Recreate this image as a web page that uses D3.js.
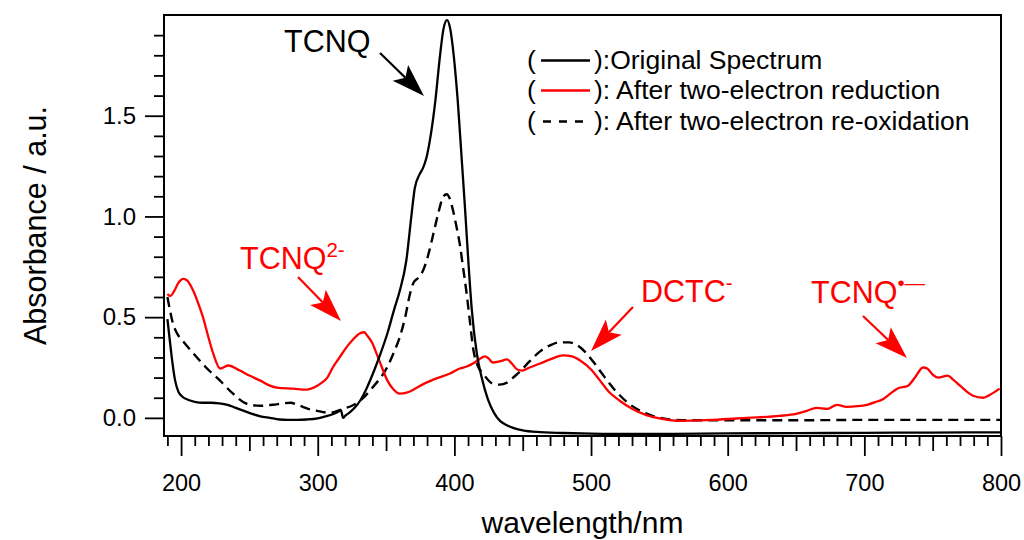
<!DOCTYPE html>
<html><head><meta charset="utf-8">
<script src="https://cdn.jsdelivr.net/npm/d3@7"></script>
<style>html,body{margin:0;padding:0;background:#fff;} svg{display:block;} text{font-family:"Liberation Sans",Arial,sans-serif;}</style>
</head><body><svg id="c" width="1024" height="540"></svg>
<script>
// ---- data ----
const wlOriginal = [190,191.5,193,195.5,198,201,205,210,216,222,228,234,240,246,252,258,265,272,278,285,292,300,306,311,315,317,318.5,320,323,327,331,336,341,346,351,356,360,364.8,368.5,371,374.6,377,379.5,382,386,389.5,392,394.6,397,399.5,402.5,405.5,407.5,410,412.7,416.4,420,424.6,429,433.4,438,443,450,460,480,500,530,560,600,650,700,750,800];
const absOriginal = [0.49,0.40,0.31,0.19,0.13,0.105,0.09,0.08,0.075,0.075,0.072,0.065,0.05,0.035,0.02,0.008,0.0,-0.008,-0.01,-0.01,-0.008,-0.002,0.008,0.018,0.03,0.038,0.0,0.01,0.025,0.05,0.085,0.15,0.23,0.32,0.42,0.54,0.63,0.78,1.0,1.14,1.21,1.24,1.29,1.375,1.57,1.80,1.93,1.975,1.93,1.80,1.57,1.27,1.07,0.8,0.54,0.32,0.2,0.09,0.025,-0.015,-0.035,-0.05,-0.062,-0.07,-0.075,-0.078,-0.08,-0.079,-0.077,-0.076,-0.074,-0.073,-0.072];

const wlReduced = [190,192,195,198,201.5,204,209,213,216,220,223.5,228.5,231,234.5,243,250,258,265,270,282,292,297,302,307,311,316,321,326,331,334,336,340,343,347,351,355,360,365,370,375,384.5,396.8,404,409,413.6,418,422.4,425,428,433,438.5,442,446,449.5,455,462.7,470,479.5,486,492,500,506.6,513,521,530,541,552,565,589,614,638,650,658,665,673,680,687,695,702,708,713.6,719,724,732,737,743,746,750,754,761,765,770,775,779.5,787,792,799];
const absReduced = [0.615,0.605,0.63,0.67,0.69,0.685,0.63,0.56,0.5,0.4,0.32,0.245,0.25,0.26,0.235,0.21,0.185,0.16,0.15,0.145,0.14,0.15,0.17,0.2,0.25,0.3,0.35,0.39,0.42,0.425,0.41,0.37,0.32,0.25,0.185,0.145,0.12,0.125,0.14,0.16,0.19,0.22,0.245,0.255,0.27,0.29,0.305,0.295,0.275,0.28,0.29,0.27,0.24,0.235,0.25,0.27,0.29,0.31,0.305,0.285,0.24,0.185,0.13,0.085,0.045,0.012,-0.005,-0.015,-0.01,0.0,0.01,0.02,0.035,0.05,0.045,0.065,0.055,0.058,0.065,0.078,0.093,0.12,0.145,0.16,0.2,0.25,0.245,0.215,0.2,0.21,0.19,0.16,0.13,0.11,0.1,0.115,0.145];

const wlReoxidized = [190,192,194,197,201.5,209,219,228.5,238,248,258,267,275,280,287,293,299.5,309,318.5,325,331,340,350.7,356,360,364,367.5,370,373.5,377,380.5,384.5,388,392,394.4,396.5,399,401.5,404,406.5,409,411.5,413.6,417,421,428,433,438.5,443,448,455,462.7,470,477,484,490,496,501.5,508,516,526,536,545,555,570,600,650,700,750,800];
const absReoxidized = [0.6,0.53,0.47,0.42,0.38,0.32,0.245,0.185,0.12,0.07,0.06,0.065,0.072,0.075,0.06,0.045,0.035,0.025,0.045,0.06,0.085,0.15,0.25,0.33,0.4,0.5,0.615,0.67,0.695,0.73,0.8,0.91,1.01,1.1,1.11,1.09,1.03,0.95,0.86,0.74,0.615,0.47,0.35,0.26,0.22,0.17,0.165,0.175,0.2,0.23,0.28,0.33,0.36,0.375,0.375,0.36,0.325,0.28,0.22,0.15,0.08,0.035,0.01,-0.005,-0.012,-0.012,-0.012,-0.01,-0.01,-0.01];

const xTicks = [200,300,400,500,600,700,800];
const yTicks = [0.0,0.5,1.0,1.5];
const legendLabels = ["):Original Spectrum","): After two-electron reduction","): After two-electron re-oxidation"];
const xTitle = "wavelength/nm";
const yTitle = "Absorbance / a.u.";

// ---- layout ----
const L=164, R=1001, T=15, B=436;
const RED="#ff0000";
const svg=d3.select("#c");
const x=d3.scaleLinear().domain([187.5,800]).range([L,R]);
const y=d3.scaleLinear().domain([-0.09,2.0]).range([B,T]);

// axes
function styleAxis(g){ g.select(".domain").remove(); g.selectAll("line").attr("stroke","#000").attr("stroke-width",1.8); }
const minorX=d3.range(190,801,10).filter(v=>v%50!==0);
const medX=d3.range(250,801,100);
svg.append("g").attr("transform",`translate(0,${B})`).call(d3.axisBottom(x).tickValues(minorX).tickSize(10).tickFormat("")).call(styleAxis);
svg.append("g").attr("transform",`translate(0,${B})`).call(d3.axisBottom(x).tickValues(medX).tickSize(15).tickFormat("")).call(styleAxis);
const gx=svg.append("g").attr("transform",`translate(0,${B})`).call(d3.axisBottom(x).tickValues(xTicks).tickSize(20).tickPadding(18).tickFormat(d3.format("d"))).call(styleAxis);
gx.selectAll("text").attr("font-size",23.5).attr("fill","#000").attr("font-family","Liberation Sans, Arial, sans-serif");

const minorY=d3.range(0,20).map(i=>i/10).filter(v=>Math.abs(v*2-Math.round(v*2))>1e-6);
svg.append("g").attr("transform",`translate(${L},0)`).call(d3.axisLeft(y).tickValues(minorY).tickSize(10).tickFormat("")).call(styleAxis);
const gy=svg.append("g").attr("transform",`translate(${L},0)`).call(d3.axisLeft(y).tickValues(yTicks).tickSize(19).tickPadding(9).tickFormat(d3.format(".1f"))).call(styleAxis);
gy.selectAll("text").attr("font-size",24).attr("fill","#000").attr("font-family","Liberation Sans, Arial, sans-serif");

// frame
svg.append("rect").attr("x",L).attr("y",T).attr("width",R-L).attr("height",B-T).attr("fill","none").attr("stroke","#000").attr("stroke-width",2);

// clip
svg.append("clipPath").attr("id","clip").append("rect").attr("x",L).attr("y",T).attr("width",R-L).attr("height",B-T);

const line=d3.line().x(d=>x(d[0])).y(d=>y(d[1])).curve(d3.curveMonotoneX);
const plot=svg.append("g").attr("clip-path","url(#clip)");
plot.append("path").datum(d3.zip(wlReoxidized,absReoxidized)).attr("d",line).attr("fill","none").attr("stroke","#000").attr("stroke-width",2.4).attr("stroke-dasharray","10,6");
plot.append("path").datum(d3.zip(wlReduced,absReduced)).attr("d",line).attr("fill","none").attr("stroke",RED).attr("stroke-width",2.3);
plot.append("path").datum(d3.zip(wlOriginal,absOriginal)).attr("d",line).attr("fill","none").attr("stroke","#000").attr("stroke-width",2.3);

// axis titles
svg.append("text").attr("x",(L+R)/2).attr("y",533).attr("text-anchor","middle").attr("font-size",30).attr("fill","#000").text(xTitle);
svg.append("text").attr("transform",`translate(46,${(T+B)/2}) rotate(-90)`).attr("text-anchor","middle").attr("font-size",30.5).attr("fill","#000").text(yTitle);

// legend
const legY=[69,99,130];
const legStyles=[{c:"#000",d:null},{c:RED,d:null},{c:"#000",d:"8,8"}];
legendLabels.forEach((lab,i)=>{
  const g=svg.append("g");
  g.append("text").attr("x",527).attr("y",legY[i]).attr("font-size",26.5).attr("fill","#000").text("(");
  const ln=g.append("line").attr("x1",legStyles[i].d?543:541).attr("x2",legStyles[i].d?583:590).attr("y1",legY[i]-8.5).attr("y2",legY[i]-8.5).attr("stroke",legStyles[i].c).attr("stroke-width",2.4);
  if(legStyles[i].d) ln.attr("stroke-dasharray",legStyles[i].d);
  g.append("text").attr("x",594).attr("y",legY[i]).attr("font-size",26.5).attr("fill","#000").text(lab);
});

// annotations
function arrow(x1,y1,x2,y2,color){
  const dx=x2-x1, dy=y2-y1, len=Math.hypot(dx,dy), ux=dx/len, uy=dy/len, px=-uy, py=ux;
  const HL=33, HW=11, N=7;
  const bx=x2-ux*HL, by=y2-uy*HL;
  svg.append("line").attr("x1",x1).attr("y1",y1).attr("x2",bx+ux*N).attr("y2",by+uy*N).attr("stroke",color).attr("stroke-width",2.2);
  const p=[[x2,y2],[bx+px*HW,by+py*HW],[bx+ux*N,by+uy*N],[bx-px*HW,by-py*HW]];
  svg.append("path").attr("d","M"+p.map(q=>q.join(",")).join("L")+"Z").attr("fill",color);
}
function label(xp,yp,main,sup,color,supDy){
  const t=svg.append("text").attr("x",xp).attr("y",yp).attr("font-size",30.5).attr("fill",color);
  t.append("tspan").text(main);
  if(sup) t.append("tspan").attr("font-size",20.5).attr("dy",supDy).text(sup);
}
label(284,52,"TCNQ",null,"#000");
arrow(380,53,424,96,"#000");
label(240,269,"TCNQ","2-",RED,-12);
arrow(298,277,341,321,RED);
label(641,302,"DCTC","-",RED,-12);
arrow(633,307,591,351,RED);
label(811,303,"TCNQ","•—",RED,-13);
arrow(863,316,907,358,RED);
</script></body></html>
